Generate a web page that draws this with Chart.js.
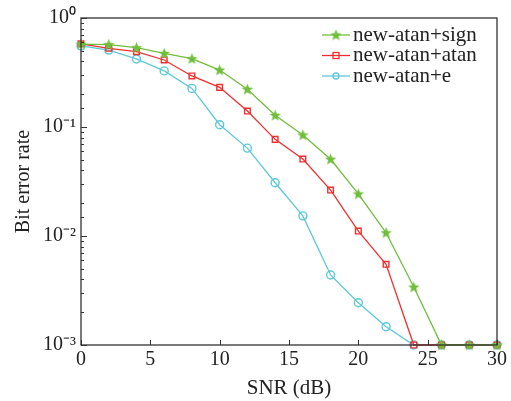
<!DOCTYPE html>
<html>
<head>
<meta charset="utf-8">
<script src="https://cdn.jsdelivr.net/npm/chart.js@4.4.1/dist/chart.umd.min.js"></script>
<style>
  html, body { margin: 0; padding: 0; background: #fff; }
  #wrap { width: 511px; height: 401px; }
</style>
</head>
<body>
<div id="wrap"><canvas id="myChart" width="511" height="401"></canvas></div>
<script>
// dati
const snr = [0, 2, 4, 6, 8, 10, 12, 14, 16, 18, 20, 22, 24, 26, 28, 30];
const berSign = [0.577, 0.57, 0.534, 0.474, 0.423, 0.333, 0.222, 0.128, 0.0845, 0.0506, 0.0243, 0.0107, 0.0034, 0.001, 0.001, 0.001];
const berAtan = [0.58, 0.527, 0.491, 0.412, 0.294, 0.231, 0.140, 0.077, 0.0508, 0.0264, 0.0111, 0.0055, 0.001, 0.001, 0.001, 0.001];
const berE = [0.554, 0.508, 0.421, 0.327, 0.226, 0.105, 0.064, 0.0308, 0.0153, 0.00439, 0.00244, 0.00147, 0.001, 0.001, 0.001, 0.001];
const labels = ['new-atan+sign', 'new-atan+atan', 'new-atan+e'];
const colors = ['rgb(112,190,60)', 'rgb(238,48,48)', 'rgb(92,200,216)'];
const xTicks = [0, 5, 10, 15, 20, 25, 30];

const FONT = '"Liberation Serif", "Times New Roman", serif';
const sup = { '0': '\u2070', '1': '\u00b9', '2': '\u00b2', '3': '\u00b3', '-': '\u207b' };

// stella piena come marker (la 'star' di Chart.js e' solo a linee)
function starCanvas(color) {
    const c = document.createElement('canvas');
    c.width = 13; c.height = 13;
    const ctx = c.getContext('2d');
    ctx.fillStyle = color;
    ctx.beginPath();
    for (let i = 0; i < 10; i++) {
        const r = i % 2 == 0 ? 6 : 2.6;
        const a = -Math.PI / 2 + i * Math.PI / 5;
        const px = 6.5 + r * Math.cos(a);
        const py = 6.8 + r * Math.sin(a);
        if (i == 0) ctx.moveTo(px, py); else ctx.lineTo(px, py);
    }
    ctx.closePath();
    ctx.fill();
    return c;
}
const starImg = starCanvas(colors[0]);

function makeDataset(label, data, color, style) {
    return {
        label: label,
        data: data,
        borderColor: color,
        backgroundColor: 'rgba(255,255,255,0)',
        borderWidth: 1.3,
        pointStyle: style,
        pointRadius: 4,
        pointBorderWidth: 1.4,
        pointBorderColor: color,
        pointBackgroundColor: 'rgba(255,255,255,0)',
        tension: 0,
        clip: false,
    };
}

// tick interni + bordo + legenda disegnati a mano
const framePlugin = {
    id: 'frame',
    afterDraw(chart) {
        const { ctx, chartArea: a, scales } = chart;
        ctx.save();
        ctx.strokeStyle = '#333';
        ctx.lineWidth = 1.3;
        ctx.strokeRect(a.left, a.top, a.right - a.left, a.bottom - a.top);

        ctx.lineWidth = 1;
        ctx.beginPath();
        scales.x.ticks.forEach(t => {
            const px = Math.round(scales.x.getPixelForValue(t.value)) + 0.5;
            ctx.moveTo(px, a.bottom);
            ctx.lineTo(px, a.bottom - 5);
        });
        scales.y.ticks.forEach(t => {
            const lg = Math.log10(t.value);
            const len = Math.abs(lg - Math.round(lg)) < 1e-6 ? 6 : 3;
            const py = Math.round(scales.y.getPixelForValue(t.value)) + 0.5;
            ctx.moveTo(a.left, py);
            ctx.lineTo(a.left + len, py);
        });
        ctx.stroke();

        // legenda
        const x0 = 322, y0 = 35, step = 20.5;
        chart.data.datasets.forEach((ds, i) => {
            const y = y0 + i * step;
            ctx.strokeStyle = ds.borderColor;
            ctx.lineWidth = 1.3;
            ctx.beginPath();
            ctx.moveTo(x0, y);
            ctx.lineTo(x0 + 28, y);
            ctx.stroke();
            const cx = x0 + 14;
            if (i == 0) {
                ctx.drawImage(starImg, cx - 6.5, y - 6.5);
            } else if (i == 1) {
                ctx.strokeRect(cx - 3, y - 3, 6, 6);
            } else {
                ctx.beginPath();
                ctx.arc(cx, y, 3, 0, Math.PI * 2);
                ctx.stroke();
            }
            ctx.fillStyle = '#222';
            ctx.font = '21px ' + FONT;
            ctx.textBaseline = 'middle';
            ctx.fillText(ds.label, x0 + 31, y);
        });
        ctx.restore();
    }
};

const ctx = document.getElementById('myChart').getContext('2d');
const myChart = new Chart(ctx, {
    type: 'line',
    data: {
        labels: snr,
        datasets: [
            makeDataset(labels[0], berSign, colors[0], starImg),
            makeDataset(labels[1], berAtan, colors[1], 'rect'),
            makeDataset(labels[2], berE, colors[2], 'circle'),
        ]
    },
    options: {
        responsive: false,
        animation: false,
        layout: { padding: { top: 18, right: 14, left: 0, bottom: 0 } },
        plugins: {
            legend: { display: false },
            tooltip: { enabled: false },
        },
        scales: {
            x: {
                type: 'linear',
                min: 0,
                max: 30,
                afterBuildTicks: (scale) => { scale.ticks = xTicks.map(v => ({ value: v })); },
                afterFit: (scale) => { scale.height = 56; },
                grid: { display: false, drawTicks: false },
                border: { display: false },
                ticks: {
                    color: '#222',
                    font: { family: FONT, size: 20 },
                    padding: 3,
                    maxRotation: 0,
                },
                title: {
                    display: true,
                    text: 'SNR (dB)',
                    color: '#222',
                    font: { family: FONT, size: 21 },
                    padding: { top: 0, bottom: 0 },
                },
            },
            y: {
                type: 'logarithmic',
                min: 0.001,
                max: 1,
                afterFit: (scale) => { scale.width = 81; },
                grid: { display: false, drawTicks: false },
                border: { display: false },
                ticks: {
                    autoSkip: false,
                    color: '#222',
                    font: { family: FONT, size: 20 },
                    padding: 5,
                    callback: (value) => {
                        const lg = Math.log10(value);
                        if (Math.abs(lg - Math.round(lg)) > 1e-6) return '';
                        return '10' + String(Math.round(lg)).split('').map(ch => sup[ch]).join('');
                    },
                },
                title: {
                    display: true,
                    text: 'Bit error rate',
                    color: '#222',
                    font: { family: FONT, size: 20 },
                    padding: { top: 12, bottom: 0 },
                },
            },
        },
    },
    plugins: [framePlugin],
});
</script>
</body>
</html>
